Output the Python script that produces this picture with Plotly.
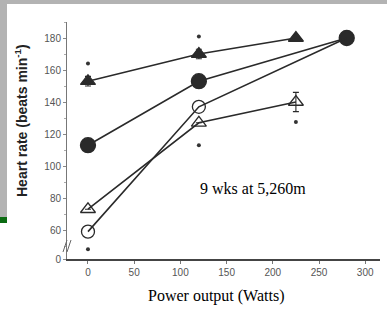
import plotly.graph_objects as go

# Data
power_tri = [0, 120, 225]
power_circ = [0, 120, 280]
filled_tri = [153, 170, 180]
filled_tri_err = [3, 3, 0]
filled_circ = [113, 153, 180]
open_circ = [59, 137, 180]
open_tri = [73, 127, 140]
open_tri_err = [0, 0, 6]
star_x = [0, 120, 120, 225, 0]
star_y = [164, 181, 113, 127.5, 48]

x_ticks = [0, 50, 100, 150, 200, 250, 300]
y_tickvals = [41.9, 60, 80, 100, 120, 140, 160, 180]
y_ticktext = ["0", "60", "80", "100", "120", "140", "160", "180"]

LC = "#2a2a2a"
fig = go.Figure()

def add(x, y, sym, size, err=None):
    fig.add_trace(go.Scatter(
        x=x, y=y, mode="lines+markers",
        line=dict(color=LC, width=1.6),
        marker=dict(symbol=sym, size=size, color=LC, line=dict(color=LC, width=1.3)),
        error_y=dict(type="data", array=err, color=LC, thickness=1.1, width=3, visible=True) if err else None,
        showlegend=False, cliponaxis=False))

add(power_tri, filled_tri, "triangle-up", 13, filled_tri_err)
add(power_circ, filled_circ, "circle", 15)
add(power_circ, open_circ, "circle-open", 13)
add(power_tri, open_tri, "triangle-up-open", 13, open_tri_err)

fig.add_trace(go.Scatter(x=star_x, y=star_y, mode="markers",
                         marker=dict(symbol="circle", size=4, color="#333"),
                         showlegend=False, cliponaxis=False))

fig.update_layout(
    width=387, height=329,
    margin=dict(l=67, r=7, t=22, b=70),
    paper_bgcolor="white", plot_bgcolor="white",
    xaxis=dict(range=[-22.7, 316], tickvals=x_ticks, ticks="outside", ticklen=3,
               tickcolor="#777", showgrid=False, zeroline=False, showline=True,
               linecolor="#444", linewidth=2,
               tickfont=dict(family="Arial", size=10, color="#555")),
    yaxis=dict(range=[41.9, 190], tickvals=y_tickvals, ticktext=y_ticktext,
               ticks="outside", ticklen=3, tickcolor="#888",
               minor=dict(dtick=10, ticks="outside", ticklen=2, tickcolor="#aaa"),
               showgrid=False, zeroline=False, showline=True,
               linecolor="#777", linewidth=1,
               tickfont=dict(family="Arial", size=10, color="#555")),
)

W, H = 313, 237
def px(xp):
    return (xp - 67) / W
def py(yp):
    return (329 - 70 - yp) / H

# slide frame (gray bands, green bar)
fig.add_shape(type="rect", xref="paper", yref="paper", x0=px(0), x1=px(387), y0=py(4), y1=py(0),
              fillcolor="#b3b3b3", line_width=0)
fig.add_shape(type="rect", xref="paper", yref="paper", x0=px(0), x1=px(7), y0=py(217), y1=py(0),
              fillcolor="#b3b3b3", line_width=0)
fig.add_shape(type="rect", xref="paper", yref="paper", x0=px(0), x1=px(7), y0=py(223), y1=py(217),
              fillcolor="#0b6b12", line_width=0)
# axis break marks
for off in (0, 4):
    fig.add_shape(type="line", xref="paper", yref="paper",
                  x0=px(63 + off), x1=px(67 + off), y0=py(252), y1=py(240),
                  line=dict(color="#666", width=1))

fig.add_annotation(text="<b>Heart rate (beats min<sup>-1</sup>)</b>", xref="paper", yref="paper",
                   x=px(21), y=py(121), textangle=-90, showarrow=False,
                   font=dict(family="Arial", size=14, color="#222"), xanchor="center", yanchor="middle")
fig.add_annotation(text="9 wks at 5,260m", xref="paper", yref="paper",
                   x=px(253), y=py(199), showarrow=False,
                   font=dict(family="Liberation Serif", size=16, color="black"))
fig.add_annotation(text="Power output (Watts)", xref="paper", yref="paper",
                   x=px(216), y=py(307), showarrow=False,
                   font=dict(family="Liberation Serif", size=16, color="black"))

fig.write_html("out.html")
